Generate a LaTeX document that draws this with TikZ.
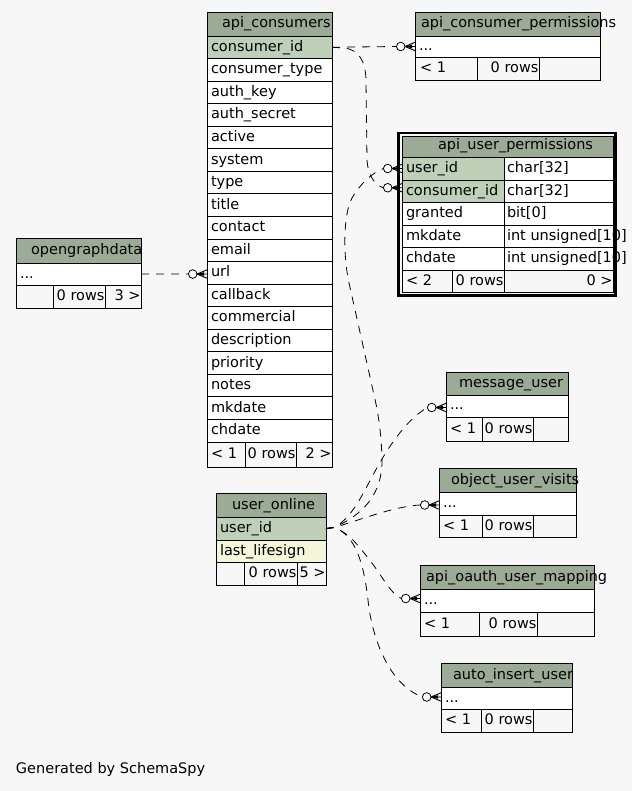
\documentclass[tikz,border=0pt]{standalone}
\usepackage{fontspec}
\setmainfont{DejaVu Sans}
\usetikzlibrary{fit,calc}
\definecolor{bgc}{HTML}{F7F7F7}
\definecolor{hdrc}{HTML}{9BAB96}
\definecolor{pkc}{HTML}{BED1B8}
\definecolor{idxc}{HTML}{F4F7DA}
\newcommand\tabfont{\fontsize{14.5}{17}\selectfont}
\tikzset{
  cellbox/.style={draw=black, line width=0.8pt, inner sep=0pt, outer sep=0pt},
  hdr/.style={cellbox, fill=hdrc},
  pkrow/.style={cellbox, fill=pkc},
  idxrow/.style={cellbox, fill=idxc},
  plainrow/.style={cellbox, fill=white},
  footrow/.style={cellbox, fill=bgc},
  ltxt/.style={anchor=base west, inner sep=0pt, outer sep=0pt, font=\tabfont},
  rtxt/.style={anchor=base east, inner sep=0pt, outer sep=0pt, font=\tabfont},
  rel/.style={draw=black, line width=0.8pt, dash pattern=on 8pt off 7pt},
  crowodot/.pic={
    \draw[line width=0.9pt] (-10,0) -- (0,-4.2) (-10,0) -- (0,0) (-10,0) -- (0,4.2);
    \fill (-10,0) -- (-3,-1.8) -- (-3,1.8) -- cycle;
    \draw[line width=0.8pt, fill=white] (-14.3,0) circle[radius=4.3pt];
  }
}
\begin{document}
\begin{tikzpicture}[x=1pt,y=-1pt]
\useasboundingbox (0,0) rectangle (632,791);
\fill[bgc] (0,0) rectangle (632,791);

% ---------------- api_consumers
\node[hdr, fit={(207,12) (332,36)}] (ac-h) {};
\node[ltxt] (ac-ht) at (222,28) {api\_consumers};
\node[pkrow, fit={(207,36) (332,58.556)}] (ac-0) {};
\node[ltxt] (ac-0-t) at (211,51.3) {consumer\_id};
\foreach \n [count=\i] in {consumer\_type,auth\_key,auth\_secret,active,system,type,title,contact,email,url,callback,commercial,description,priority,notes,mkdate,chdate}{
  \pgfmathsetmacro\yt{36+\i*22.556}
  \pgfmathsetmacro\yb{\yt+22.556}
  \pgfmathsetmacro\yl{\yt+15.3}
  \node[plainrow, fit={(207,\yt) (332,\yb)}] (ac-\i) {};
  \node[ltxt] (ac-\i-t) at (211,\yl) {\n};
}
\node[footrow, fit={(207,442) (245,467)}] (ac-f1) {};
\node[footrow, fit={(245,442) (296,467)}] (ac-f2) {};
\node[footrow, fit={(296,442) (332,467)}] (ac-f3) {};
\node[ltxt] (ac-f1-t) at (211,458.5) {< 1};
\node[rtxt] (ac-f2-t) at (295.5,458.5) {0 rows};
\node[rtxt] (ac-f3-t) at (331.5,458.5) {2 >};

% ---------------- api_consumer_permissions
\node[hdr, fit={(415,12) (600,36)}] (acp-h) {};
\node[ltxt] (acp-ht) at (421,28) {api\_consumer\_permissions};
\node[plainrow, fit={(415,36) (600,57)}] (acp-r) {};
\node[ltxt] (acp-r-t) at (419,50.5) {...};
\node[footrow, fit={(415,57) (477,80)}] (acp-f1) {};
\node[footrow, fit={(477,57) (539,80)}] (acp-f2) {};
\node[footrow, fit={(539,57) (600,80)}] (acp-f3) {};
\node[ltxt] (acp-f1-t) at (420,72.5) {< 1};
\node[rtxt] (acp-f2-t) at (538.5,72.5) {0 rows};

% ---------------- api_user_permissions
\node[draw=black, line width=2.7pt, inner sep=0pt, fit={(398.7,133) (615.5,295.3)}] (aup-frame) {};
\node[hdr, fit={(402,136) (613,157)}] (aup-h) {};
\node[ltxt] (aup-ht) at (438,150) {api\_user\_permissions};
\node[pkrow, fit={(402,157) (504,180)}] (aup-uid) {};
\node[plainrow, fit={(504,157) (613,180)}] (aup-uid-ty) {};
\node[ltxt] (aup-uid-t) at (406,172.5) {user\_id};
\node[ltxt] (aup-uid-tt) at (507,172.5) {char[32]};
\node[pkrow, fit={(402,180) (504,202.5)}] (aup-cid) {};
\node[plainrow, fit={(504,180) (613,202.5)}] (aup-cid-ty) {};
\node[ltxt] (aup-cid-t) at (406,195.3) {consumer\_id};
\node[ltxt] (aup-cid-tt) at (507,195.3) {char[32]};
\node[plainrow, fit={(402,202.5) (504,225)}] (aup-gr) {};
\node[plainrow, fit={(504,202.5) (613,225)}] (aup-gr-ty) {};
\node[ltxt] (aup-gr-t) at (406,217.8) {granted};
\node[ltxt] (aup-gr-tt) at (507,217.8) {bit[0]};
\node[plainrow, fit={(402,225) (504,247.5)}] (aup-mk) {};
\node[plainrow, fit={(504,225) (613,247.5)}] (aup-mk-ty) {};
\node[ltxt] (aup-mk-t) at (406,240.3) {mkdate};
\node[ltxt] (aup-mk-tt) at (507,240.3) {int unsigned[10]};
\node[plainrow, fit={(402,247.5) (504,270)}] (aup-ch) {};
\node[plainrow, fit={(504,247.5) (613,270)}] (aup-ch-ty) {};
\node[ltxt] (aup-ch-t) at (406,262.8) {chdate};
\node[ltxt] (aup-ch-tt) at (507,262.8) {int unsigned[10]};
\node[footrow, fit={(402,270) (452,292)}] (aup-f1) {};
\node[footrow, fit={(452,270) (504,292)}] (aup-f2) {};
\node[footrow, fit={(504,270) (613,292)}] (aup-f3) {};
\node[ltxt] (aup-f1-t) at (406,285) {< 2};
\node[rtxt] (aup-f2-t) at (503.5,285) {0 rows};
\node[rtxt] (aup-f3-t) at (612.5,285) {0 >};

% ---------------- opengraphdata
\node[hdr, fit={(16,238) (141,263)}] (og-h) {};
\node[ltxt] (og-ht) at (31,254.5) {opengraphdata};
\node[plainrow, fit={(16,263) (141,285)}] (og-r) {};
\node[ltxt] (og-r-t) at (20,278) {...};
\node[footrow, fit={(16,285) (53,308)}] (og-f1) {};
\node[footrow, fit={(53,285) (105,308)}] (og-f2) {};
\node[footrow, fit={(105,285) (141,308)}] (og-f3) {};
\node[rtxt] (og-f2-t) at (104.5,300.5) {0 rows};
\node[rtxt] (og-f3-t) at (140.5,300.5) {3 >};

% ---------------- user_online
\node[hdr, fit={(216,493) (326,517)}] (uo-h) {};
\node[ltxt] (uo-ht) at (232,509) {user\_online};
\node[pkrow, fit={(216,517) (326,540)}] (uo-0) {};
\node[ltxt] (uo-0-t) at (220,532) {user\_id};
\node[idxrow, fit={(216,540) (326,562)}] (uo-1) {};
\node[ltxt] (uo-1-t) at (220,555) {last\_lifesign};
\node[footrow, fit={(216,562) (244,585)}] (uo-f1) {};
\node[footrow, fit={(244,562) (297,585)}] (uo-f2) {};
\node[footrow, fit={(297,562) (326,585)}] (uo-f3) {};
\node[rtxt] (uo-f2-t) at (296.5,577.5) {0 rows};
\node[rtxt] (uo-f3-t) at (325.5,577.5) {5 >};

% ---------------- message_user
\node[hdr, fit={(446,372) (568,395)}] (mu-h) {};
\node[ltxt] (mu-ht) at (459,387.5) {message\_user};
\node[plainrow, fit={(446,395) (568,417)}] (mu-r) {};
\node[ltxt] (mu-r-t) at (450,409.5) {...};
\node[footrow, fit={(446,417) (482,441)}] (mu-f1) {};
\node[footrow, fit={(482,417) (533,441)}] (mu-f2) {};
\node[footrow, fit={(533,417) (568,441)}] (mu-f3) {};
\node[ltxt] (mu-f1-t) at (450,433) {< 1};
\node[rtxt] (mu-f2-t) at (532.5,433) {0 rows};

% ---------------- object_user_visits
\node[hdr, fit={(439,468) (576,492)}] (ouv-h) {};
\node[ltxt] (ouv-ht) at (451,484) {object\_user\_visits};
\node[plainrow, fit={(439,492) (576,515)}] (ouv-r) {};
\node[ltxt] (ouv-r-t) at (443,507) {...};
\node[footrow, fit={(439,515) (482,537)}] (ouv-f1) {};
\node[footrow, fit={(482,515) (533,537)}] (ouv-f2) {};
\node[footrow, fit={(533,515) (576,537)}] (ouv-f3) {};
\node[ltxt] (ouv-f1-t) at (443,530) {< 1};
\node[rtxt] (ouv-f2-t) at (532.5,530) {0 rows};

% ---------------- api_oauth_user_mapping
\node[hdr, fit={(420,565) (594,589)}] (aoum-h) {};
\node[ltxt] (aoum-ht) at (426,581) {api\_oauth\_user\_mapping};
\node[plainrow, fit={(420,589) (594,612)}] (aoum-r) {};
\node[ltxt] (aoum-r-t) at (424,604) {...};
\node[footrow, fit={(420,612) (479,636)}] (aoum-f1) {};
\node[footrow, fit={(479,612) (537,636)}] (aoum-f2) {};
\node[footrow, fit={(537,612) (594,636)}] (aoum-f3) {};
\node[ltxt] (aoum-f1-t) at (424,628) {< 1};
\node[rtxt] (aoum-f2-t) at (536.5,628) {0 rows};

% ---------------- auto_insert_user
\node[hdr, fit={(441,663) (572,687)}] (aiu-h) {};
\node[ltxt] (aiu-ht) at (453,679) {auto\_insert\_user};
\node[plainrow, fit={(441,687) (572,709)}] (aiu-r) {};
\node[ltxt] (aiu-r-t) at (445,702) {...};
\node[footrow, fit={(441,709) (481,732)}] (aiu-f1) {};
\node[footrow, fit={(481,709) (533,732)}] (aiu-f2) {};
\node[footrow, fit={(533,709) (572,732)}] (aiu-f3) {};
\node[ltxt] (aiu-f1-t) at (445,724.5) {< 1};
\node[rtxt] (aiu-f2-t) at (532.5,724.5) {0 rows};

% ---------------- footer text
\node[ltxt] (gen) at (16,773) {Generated by SchemaSpy};

% ---------------- relationships
\draw[rel] (ac-0.east) -- ([xshift=-18.5pt]acp-r.west);
\draw[rel] (ac-0.east) -- (345,48) .. controls (358,50) and (366,60) .. (366,82)
   -- (367,160) .. controls (368,176) and (375,185) .. ([xshift=-18.7pt,yshift=3.5pt]aup-cid.west);
\draw[rel] (og-r.east) -- ([xshift=-18.5pt,yshift=-1.2pt]ac-10.west);
\draw[rel] (uo-0.east) -- (334,527.5) .. controls (362,515) and (383,495) .. (382,458)
   .. controls (381,430) and (378,412) .. (374,395) -- (349,283)
   .. controls (343,255) and (343,215) .. (352,198)
   .. controls (360,184) and (372,173) .. ([xshift=-18.7pt]aup-uid.west);
\draw[rel] (uo-0.east) -- (334,527.5) .. controls (352,518) and (362,495) .. (372,477)
   .. controls (385,452) and (405,420) .. ([xshift=-18.5pt,yshift=-1.5pt]mu-r.west);
\draw[rel] (uo-0.east) -- (334,527.5) .. controls (360,520) and (395,506) .. ([xshift=-18.5pt,yshift=-1.5pt]ouv-r.west);
\draw[rel] (uo-0.east) -- (334,527.5) .. controls (350,533) and (360,548) .. (372,563)
   .. controls (383,578) and (392,595) .. ([xshift=-18.5pt,yshift=2pt]aoum-r.west);
\draw[rel] (uo-0.east) -- (334,527.5) .. controls (356,535) and (364,565) .. (368,600)
   .. controls (372,640) and (390,685) .. ([xshift=-18.5pt,yshift=1pt]aiu-r.west);

% ---------------- crow's foot + circle ends
\pic at (acp-r.west) {crowodot};
\pic at ([yshift=3.5pt]aup-cid.west) {crowodot};
\pic at (aup-uid.west) {crowodot};
\pic at ([yshift=-1.2pt]ac-10.west) {crowodot};
\pic at ([yshift=-1.5pt]mu-r.west) {crowodot};
\pic at ([yshift=-1.5pt]ouv-r.west) {crowodot};
\pic at ([yshift=2pt]aoum-r.west) {crowodot};
\pic at ([yshift=1pt]aiu-r.west) {crowodot};
\end{tikzpicture}
\end{document}
